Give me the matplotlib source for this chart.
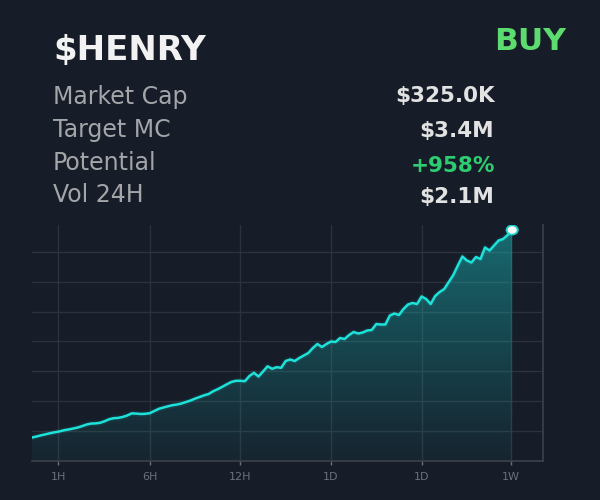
import matplotlib
matplotlib.use("Agg")
import matplotlib.pyplot as plt
import numpy as np
from matplotlib.patches import Ellipse

# height of the curve above the baseline
price = [23.5, 24.5, 25.7, 26.7, 27.8, 28.7, 29.5, 30.7, 31.5, 32.4,
         33.4, 34.8, 36.4, 37.4, 37.6, 38.2, 39.7, 41.7, 42.8, 43.1,
         44.0, 45.5, 47.6, 47.4, 47.0, 47.2, 47.8, 50.0, 52.2, 53.5,
         54.7, 55.8, 56.5, 57.5, 59.0, 60.5, 62.4, 64.0, 65.7, 67.0,
         69.8, 71.8, 74.2, 76.7, 79.0, 80.2, 80.2, 79.8, 85.0, 88.2,
         84.5, 89.5, 94.7, 92.2, 93.8, 93.2, 100.0, 101.5, 100.0, 103.0,
         105.5, 108.0, 113.0, 117.0, 114.0, 117.0, 119.5, 119.0, 123.0, 122.0,
         126.0, 129.0, 127.5, 128.5, 130.5, 131.0, 137.0, 136.5, 136.5, 145.5,
         147.5, 146.0, 152.0, 156.5, 158.0, 157.0, 164.5, 162.0, 157.0, 165.0,
         169.0, 172.0, 179.0, 186.0, 195.5, 204.5, 200.5, 198.5, 204.0, 202.0,
         213.5, 210.5, 215.5, 220.5, 222.0, 226.0, 231.0]
tick_pos = [5.8, 26, 46, 66, 86, 105.8]
tick_labels = ["1H", "6H", "12H", "1D", "1D", "1W"]
stat_names = ["Market Cap", "Target MC", "Potential", "Vol 24H"]
stat_values = ["$325.0K", "$3.4M", "+958%", "$2.1M"]

bg = "#161c28"
cyan = "#1de2da"
x = np.arange(len(price))
W, H = 600, 500

fig = plt.figure(figsize=(6, 5), dpi=100, facecolor=bg)
ax = fig.add_axes([32 / W, 1 - 461 / H, (543 - 32) / W, (461 - 225) / H], facecolor=bg)

# teal gradient, cut to the area under the curve
grad = np.linspace(0, 1, 256).reshape(-1, 1)
rgba = np.zeros((256, 1, 4))
rgba[..., 0] = 0.10
rgba[..., 1] = 0.72
rgba[..., 2] = 0.72
rgba[..., 3] = 0.44 * grad[::-1] ** 1.1 + 0.06
im = ax.imshow(rgba, extent=[0, 106, 0, 231], aspect="auto", origin="upper", zorder=2)
poly = ax.fill_between(x, 0, price, color="none")
im.set_clip_path(poly.get_paths()[0], transform=ax.transData)
ax.set_xlim(0, 112.8)
ax.set_ylim(0, 236)

ax.plot(x, price, color=cyan, lw=4, alpha=0.08, zorder=3)
ax.plot(x, price, color=cyan, lw=1.8, zorder=4)

# end marker is a bit wider than tall in the picture
ax.add_patch(Ellipse((x[-1], price[-1]), 2.9, 11, fc=cyan, ec="none", alpha=0.9, zorder=5))
ax.add_patch(Ellipse((x[-1], price[-1]), 2.0, 7.5, fc="white", ec="none", zorder=6))

ax.set_xticks(tick_pos)
ax.set_xticklabels(tick_labels)
ax.set_yticks(np.arange(0, 220, 29.9))
ax.tick_params(axis="x", colors="#6b707a", labelsize=8, length=3, width=1, pad=5)
ax.tick_params(axis="y", left=False, labelleft=False)
ax.grid(True, color="#2c313c", lw=1, zorder=1)
ax.set_axisbelow(True)
for side in ["left", "top"]:
    ax.spines[side].set_visible(False)
for side in ["bottom", "right"]:
    ax.spines[side].set_color("#3c414c")
    ax.spines[side].set_linewidth(1.2)


def put(px, py, s, **kw):
    fig.text(px / W, 1 - py / H, s, va="baseline", **kw)


put(53, 60, "$HENRY", color="#f2f2f2", fontsize=24.5, fontweight="bold")
put(566, 50, "BUY", color="#5cdc6e", fontsize=22.5, fontweight="bold", ha="right")

name_y = [104, 137, 170, 202]
value_y = [102, 137, 172, 203]
value_x = [495, 494, 495, 494]
for i in range(4):
    put(53, name_y[i], stat_names[i], color="#a3a5a8", fontsize=17)
    c = "#2ecc71" if stat_values[i].startswith("+") else "#e2e2e2"
    put(value_x[i], value_y[i], stat_values[i], color=c, fontsize=15.5, fontweight="bold", ha="right")

fig.savefig("out.png", dpi=100, facecolor=bg)
